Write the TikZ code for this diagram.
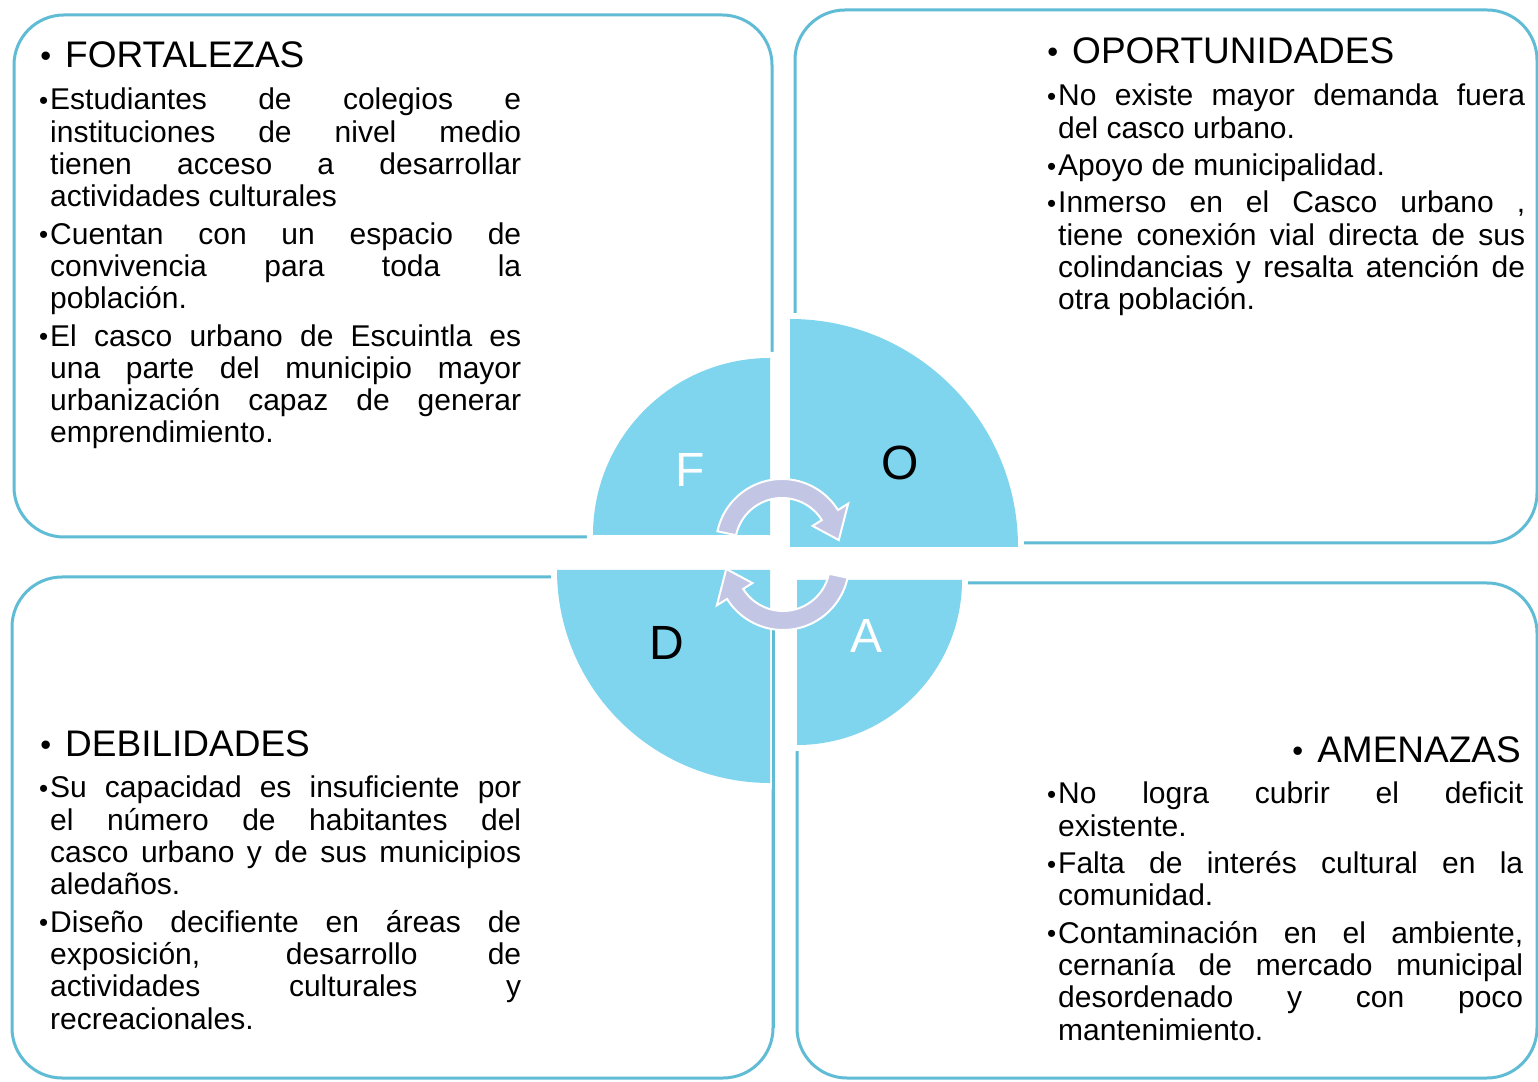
\documentclass[tikz,border=0pt]{standalone}
\usepackage{fontspec}
\setmainfont{Liberation Sans}
\definecolor{azulf}{RGB}{127,212,238}
\definecolor{bordecaja}{RGB}{96,188,212}
\definecolor{lila}{RGB}{194,198,228}
\newcommand{\vineta}{\leavevmode\llap{{\fontsize{26}{26}\selectfont\raisebox{0.5pt}{•}}\hspace{2pt}}}
\newcommand{\vinetat}{\llap{{\fontsize{31}{31}\selectfont\raisebox{1pt}{•}}\hspace{14pt}}}
\newcommand{\justo}{\tolerance=10000\relax}

\begin{document}
\begin{tikzpicture}[x=1pt,y=1pt,
   caja/.style={draw=bordecaja, line width=3pt, rounded corners=50pt},
   cuarto/.style={fill=azulf, preaction={draw=white, line width=12pt}},
   flecha/.style={fill=lila, draw=white, line width=2pt},
   cuerpo/.style={anchor=base west, inner sep=0pt, align=justify,
      font=\fontsize{30}{32.3}\selectfont},
   titulo/.style={inner sep=0pt, font=\fontsize{37}{40}\selectfont},
   letra/.style={inner sep=0pt, font=\fontsize{48}{50}\selectfont}]
   \useasboundingbox (0,0) rectangle (1538,1081);

   % cajas
   \draw[caja] (14,544) rectangle (772,1066);
   \draw[caja] (795,538) rectangle (1537,1071);
   \draw[caja] (12,3) rectangle (773,504);
   \draw[caja] (797,3) rectangle (1537,498);

   % cuadrantes
   \path[cuarto] (770,546) -- ++(-177,0) arc(180:90:177) -- cycle;
   \path[cuarto] (790,534) -- ++(228,0) arc(0:90:228) -- cycle;
   \path[cuarto] (770,511) -- ++(-213,0) arc(180:270:213) -- cycle;
   \path[cuarto] (797,501) -- ++(165,0) arc(0:-90:165) -- cycle;
   \draw[draw=bordecaja, line width=3pt] (773,454) -- (773,53);

   % flechas
   \begin{scope}[shift={(782,536)}]
      \filldraw[flecha] (168:47) -- (168:66) arc(168:32:66) -- (32:78)
      -- (5:57) -- (32:36) -- (32:47) arc(32:168:47) -- cycle;
   \end{scope}
   \begin{scope}[shift={(783,517)}]
      \filldraw[flecha] (-12:47) -- (-12:66) arc(-12:-148:66) -- (-148:78)
      -- (-175:57) -- (-148:36) -- (-148:47) arc(-148:-12:47) -- cycle;
   \end{scope}

   \node[letra, text=white] (lf) at (690,611) {F};
   \node[letra] (lo) at (900,618) {O};
   \node[letra] (ld) at (667,438) {D};
   \node[letra, text=white] (la) at (866,445) {A};

   % textos
   \node[titulo, anchor=base west] (tf) at (65,1013) {\vinetat FORTALEZAS};
   \node[cuerpo, text width=471] (fortalezas) at (50,971) {\justo
   \vineta Estudiantes de colegios e\linebreak instituciones de nivel medio\linebreak
   tienen acceso a desarrollar\linebreak actividades culturales\\[5pt]
   \vineta Cuentan con un espacio de\linebreak convivencia para toda la\linebreak
   población.\\[5pt]
   \vineta El casco urbano de Escuintla es\linebreak una parte del municipio mayor\linebreak
   urbanización capaz de generar\linebreak emprendimiento.};

   \node[titulo, anchor=base west] (to) at (1072,1017) {\vinetat OPORTUNIDADES};
   \node[cuerpo, text width=467] (oportunidades) at (1058,975) {\justo
   \vineta No existe mayor demanda fuera\linebreak del casco urbano.\\[5pt]
   \vineta Apoyo de municipalidad.\\[5pt]
   \vineta Inmerso en el Casco urbano ,\linebreak tiene conexión vial directa de sus\linebreak
   colindancias y resalta atención de\linebreak otra población.};

   \node[titulo, anchor=base west] (td) at (65,324) {\vinetat DEBILIDADES};
   \node[cuerpo, text width=471] (debilidades) at (50,283) {\justo
   \vineta Su capacidad es insuficiente por\linebreak el número de habitantes del\linebreak
   casco urbano y de sus municipios\linebreak aledaños.\\[5pt]
   \vineta Diseño decifiente en áreas de\linebreak exposición, desarrollo de\linebreak
   actividades culturales y\linebreak recreacionales.};

   \node[titulo, anchor=base east] (ta) at (1521,318) {\vinetat AMENAZAS};
   \node[cuerpo, text width=465] (amenazas) at (1058,277) {\justo
   \vineta No logra cubrir el deficit\linebreak existente.\\[5pt]
   \vineta Falta de interés cultural en la\linebreak comunidad.\\[5pt]
   \vineta Contaminación en el ambiente,\linebreak cernanía de mercado municipal\linebreak
   desordenado y con poco\linebreak mantenimiento.};
\end{tikzpicture}
\end{document}
